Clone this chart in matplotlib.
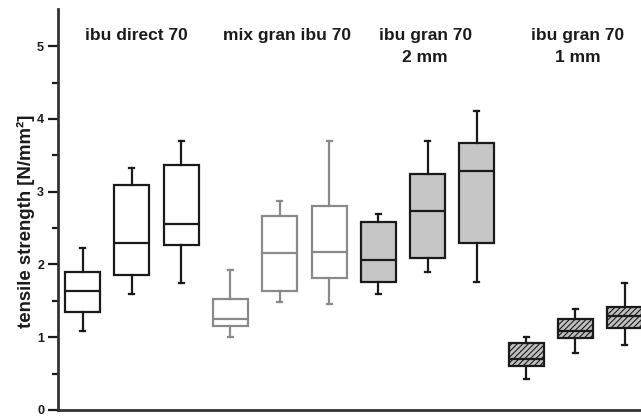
import matplotlib
matplotlib.use("Agg")
import matplotlib.pyplot as plt

plt.rcParams['font.family'] = ['Liberation Sans', 'DejaVu Sans']
plt.rcParams['hatch.linewidth'] = 0.8
plt.rcParams['hatch.color'] = '#555555'

groups = ["ibu direct 70", "mix gran ibu 70", "ibu gran 70\n2 mm", "ibu gran 70\n1 mm"]
whis_hi = [2.22, 3.32, 3.70, 1.93, 2.87, 3.70, 2.69, 3.69, 4.11, 1.00, 1.39, 1.745]
q3 = [1.89, 3.09, 3.36, 1.53, 2.66, 2.80, 2.58, 3.24, 3.67, 0.925, 1.25, 1.41]
med = [1.635, 2.29, 2.56, 1.25, 2.16, 2.17, 2.06, 2.73, 3.28, 0.705, 1.09, 1.29]
q1 = [1.34, 1.85, 2.27, 1.15, 1.64, 1.81, 1.76, 2.09, 2.29, 0.60, 0.985, 1.13]
whis_lo = [1.09, 1.59, 1.74, 1.00, 1.48, 1.46, 1.60, 1.89, 1.76, 0.43, 0.78, 0.90]
group_of_box = [0, 0, 0, 1, 1, 1, 2, 2, 2, 3, 3, 3]

edge_colors = ["#1a1a1a", "#8a8a8a", "#1a1a1a", "#1a1a1a"]
face_colors = ["white", "white", "#c6c6c6", "#c0c0c0"]
hatches = [None, None, None, "//////"]

fig = plt.figure(figsize=(6.41, 4.18), dpi=100)
ax = fig.add_axes([58/641, 1 - 410/418, 1 - 58/641, (410 - 9)/418])

positions = list(range(1, len(med) + 1))
for i, pos in enumerate(positions):
    g = group_of_box[i]
    st = [dict(med=med[i], q1=q1[i], q3=q3[i], whislo=whis_lo[i], whishi=whis_hi[i], fliers=[])]
    ec = edge_colors[g]
    lw = 1.6
    ax.bxp(st, positions=[pos], widths=0.71, patch_artist=True, showfliers=False,
           boxprops=dict(facecolor=face_colors[g], edgecolor=ec, linewidth=lw,
                         hatch=hatches[g]),
           medianprops=dict(color=ec, linewidth=lw),
           whiskerprops=dict(color=ec, linewidth=lw),
           capprops=dict(color=ec, linewidth=lw),
           capwidths=0.1, manage_ticks=False)

ax.set_xlim(0.5, 12.33)
ax.set_ylim(0, 5.51)

label_x = [2.1, 5.15, 7.95, 11.05]
for gx, name in zip(label_x, groups):
    ax.text(gx, 5.25, name, ha='center', va='top', fontsize=12.5, fontweight='bold',
            color='#1a1a1a', linespacing=1.6)

ax.set_yticks([0, 1, 2, 3, 4, 5])
ax.set_yticks([0.5, 1.5, 2.5, 3.5, 4.5], minor=True)
ax.set_xticks([])
ax.tick_params(axis='y', which='major', direction='out', length=7, width=1.6,
               labelsize=9, colors='#1a1a1a', pad=3)
ax.tick_params(axis='y', which='minor', direction='out', length=4, width=1.6, colors='#1a1a1a')
for lbl in ax.get_yticklabels():
    lbl.set_fontweight('bold')
ax.set_ylabel("tensile strength [N/mm²]", fontsize=13.4, fontweight='bold', color='#1a1a1a')
ax.yaxis.set_label_coords(-0.039, 0.47)

for s in ['top', 'right']:
    ax.spines[s].set_visible(False)
for s in ['left', 'bottom']:
    ax.spines[s].set_linewidth(2)
    ax.spines[s].set_color('#333333')

fig.savefig("out.png", dpi=100)
